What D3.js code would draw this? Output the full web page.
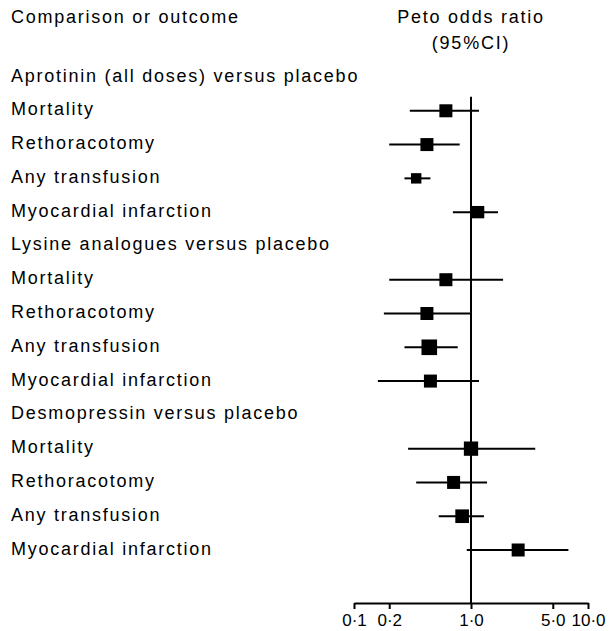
<!DOCTYPE html>
<html>
<head>
<meta charset="utf-8">
<script src="https://cdn.jsdelivr.net/npm/d3@7"></script>
<style>
  html, body { margin: 0; padding: 0; background: #fff; }
  svg text { font-family: "Liberation Sans", Arial, sans-serif; fill: #000; }
</style>
</head>
<body>
<svg id="chart" width="610" height="631"></svg>
<script>
// ---- data ----
const groups = [
  "Aprotinin (all doses) versus placebo",
  "Lysine analogues versus placebo",
  "Desmopressin versus placebo"
];
const outcomes = ["Mortality", "Rethoracotomy", "Any transfusion", "Myocardial infarction"];
// Peto odds ratio estimates, per group in outcome order
const estimates = [0.61, 0.42, 0.34, 1.15,   0.61, 0.42, 0.44, 0.45,   1.00, 0.71, 0.84, 2.53];
const lowerCI   = [0.30, 0.20, 0.27, 0.70,   0.20, 0.18, 0.27, 0.16,   0.29, 0.34, 0.53, 0.92];
const upperCI   = [1.17, 0.80, 0.45, 1.70,   1.88, 1.00, 0.77, 1.17,   3.54, 1.37, 1.29, 6.80];
const weights   = [1.0,  1.0,  0.8,  0.95,   1.0,  1.0,  1.2,  1.0,    1.1,  1.0,  1.05, 1.0];
const tickValues = [0.1, 0.2, 1, 5, 10];
const tickLabels = ["0·1", "0·2", "1·0", "5·0", "10·0"];
const headerLeft = "Comparison or outcome";
const headerRight = ["Peto odds ratio", "(95%CI)"];

// ---- layout ----
const svg = d3.select("#chart");
const rowKeys = [];
const rows = [];
groups.forEach((g, gi) => {
  rowKeys.push("g" + gi);
  rows.push({ key: "g" + gi, label: g, header: true });
  outcomes.forEach((o, oi) => {
    const i = gi * outcomes.length + oi;
    rowKeys.push("r" + i);
    rows.push({ key: "r" + i, label: o, header: false,
                est: estimates[i], lo: lowerCI[i], hi: upperCI[i], w: weights[i] });
  });
});

const x = d3.scaleLog().domain([0.1, 10]).range([354, 588]);
const y = d3.scalePoint().domain(rowKeys).range([77, 550]);
const size = d3.scaleLinear().domain([0, 1]).range([0, 13]);
const axisY = 603;
const labelStyle = sel => sel.attr("font-size", 18).attr("letter-spacing", 1.75);

// headers
svg.append("text").attr("x", 11).attr("y", 18).attr("dy", 4.5)
  .text(headerLeft).call(labelStyle);
svg.selectAll("text.hr").data(headerRight).join("text").attr("class", "hr")
  .attr("x", x(1)).attr("y", (d, i) => 18 + i * 26).attr("dy", 4.5)
  .attr("text-anchor", "middle").text(d => d).call(labelStyle);

// row labels
svg.selectAll("text.row").data(rows).join("text").attr("class", "row")
  .attr("x", 11).attr("y", d => y(d.key)).attr("dy", 4.5)
  .text(d => d.label).call(labelStyle);

// reference line at OR = 1
svg.append("line")
  .attr("x1", x(1)).attr("x2", x(1))
  .attr("y1", y("r0") - 14).attr("y2", axisY)
  .attr("stroke", "#000").attr("stroke-width", 2);

// axis
const axis = d3.axisBottom(x).tickValues(tickValues)
  .tickFormat((d, i) => tickLabels[i]).tickSize(6).tickSizeOuter(0).tickPadding(5);
const gAxis = svg.append("g").attr("transform", `translate(0,${axisY})`).call(axis);
gAxis.select(".domain").attr("stroke", "#000").attr("stroke-width", 2);
gAxis.selectAll(".tick line").attr("stroke", "#000").attr("stroke-width", 2);
gAxis.selectAll(".tick text").attr("font-size", 17).attr("letter-spacing", 0)
  .attr("font-family", "Liberation Sans, Arial, sans-serif").attr("fill", "#000");

// data rows
const dataRows = rows.filter(d => !d.header);
svg.selectAll("line.ci").data(dataRows).join("line").attr("class", "ci")
  .attr("x1", d => x(d.lo)).attr("x2", d => x(d.hi))
  .attr("y1", d => y(d.key)).attr("y2", d => y(d.key))
  .attr("stroke", "#000").attr("stroke-width", 2);
svg.selectAll("rect.est").data(dataRows).join("rect").attr("class", "est")
  .attr("x", d => x(d.est) - size(d.w) / 2)
  .attr("y", d => y(d.key) - size(d.w) / 2)
  .attr("width", d => size(d.w)).attr("height", d => size(d.w))
  .attr("fill", "#000");
</script>
</body>
</html>
